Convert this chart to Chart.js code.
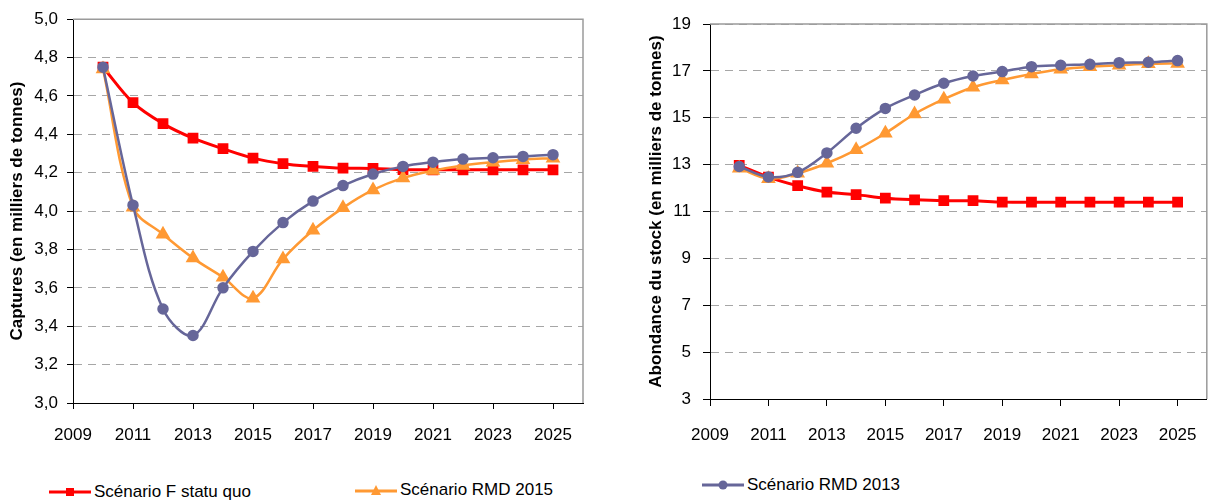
<!DOCTYPE html>
<html>
<head>
<meta charset="utf-8">
<script src="https://cdn.jsdelivr.net/npm/chart.js@4"></script>
<style>
  body { margin: 0; background: #fff; width: 1216px; height: 501px; position: relative; overflow: hidden; }
  canvas { position: absolute; top: 0; }
  #capturesChart { left: 0; }
  #stockChart { left: 600px; }
  .leg { position: absolute; display: flex; align-items: center; font-family: "Liberation Sans", sans-serif; font-size: 17px; color: #000; height: 20px; }
  .leg svg { margin-right: 3px; }
</style>
</head>
<body>
<canvas id="capturesChart" width="600" height="450"></canvas>
<canvas id="stockChart" width="616" height="450"></canvas>

<div class="leg" style="left:49px; top:482px;">
  <svg width="42" height="12"><line x1="0" y1="6" x2="42" y2="6" stroke="#FF0000" stroke-width="3"/><rect x="17" y="2" width="8" height="8" fill="#FF0000"/></svg>
  <span>Scénario F statu quo</span>
</div>
<div class="leg" style="left:355px; top:480px;">
  <svg width="42" height="12"><line x1="0" y1="7" x2="42" y2="7" stroke="#FF9933" stroke-width="3"/><polygon points="21,1 26,11 16,11" fill="#FF9933"/></svg>
  <span>Scénario RMD 2015</span>
</div>
<div class="leg" style="left:702px; top:475px;">
  <svg width="42" height="12"><line x1="0" y1="6" x2="42" y2="6" stroke="#666699" stroke-width="3"/><circle cx="21" cy="6" r="4.5" fill="#666699"/></svg>
  <span>Scénario RMD 2013</span>
</div>

<script>
  const years = [2010, 2011, 2012, 2013, 2014, 2015, 2016, 2017, 2018, 2019, 2020, 2021, 2022, 2023, 2024, 2025];
  const yearTicks = [2009, 2011, 2013, 2015, 2017, 2019, 2021, 2023, 2025];

  // Captures (milliers de tonnes)
  const capturesStatuQuo = [4.75, 4.565, 4.456, 4.38, 4.325, 4.276, 4.247, 4.233, 4.224, 4.222, 4.216, 4.215, 4.215, 4.215, 4.215, 4.215];
  const capturesRmd2015 = [4.74, 4.02, 3.879, 3.755, 3.655, 3.546, 3.75, 3.90, 4.017, 4.11, 4.173, 4.211, 4.238, 4.255, 4.268, 4.276];
  const capturesRmd2013 = [4.75, 4.031, 3.49, 3.352, 3.60, 3.79, 3.94, 4.052, 4.133, 4.193, 4.233, 4.255, 4.271, 4.278, 4.285, 4.294];

  // Abondance du stock (milliers de tonnes)
  const stockStatuQuo = [12.97, 12.47, 12.10, 11.83, 11.72, 11.57, 11.50, 11.46, 11.46, 11.40, 11.40, 11.40, 11.40, 11.40, 11.40, 11.40];
  const stockRmd2015 = [12.85, 12.40, 12.63, 13.06, 13.63, 14.34, 15.16, 15.79, 16.30, 16.61, 16.87, 17.07, 17.18, 17.24, 17.30, 17.32];
  const stockRmd2013 = [12.92, 12.47, 12.67, 13.50, 14.55, 15.40, 15.97, 16.47, 16.78, 16.97, 17.18, 17.24, 17.28, 17.35, 17.37, 17.44];

  Chart.defaults.font.family = "'Liberation Sans', sans-serif";
  Chart.defaults.font.size = 17;
  Chart.defaults.color = "#000";

  const toPoints = (vals) => vals.map((v, i) => ({ x: years[i], y: v }));

  function makeDatasets(statuQuo, rmd2015, rmd2013) {
    return [
      {
        label: "Scénario F statu quo",
        data: toPoints(statuQuo),
        borderColor: "#FF0000",
        backgroundColor: "#FF0000",
        borderWidth: 3,
        pointStyle: "rect",
        pointRadius: 5.5,
        tension: 0.35,
        order: 3
      },
      {
        label: "Scénario RMD 2015",
        data: toPoints(rmd2015),
        borderColor: "#FF9933",
        backgroundColor: "#FF9933",
        borderWidth: 2.5,
        pointStyle: "triangle",
        pointRadius: 6,
        tension: 0.35,
        order: 2
      },
      {
        label: "Scénario RMD 2013",
        data: toPoints(rmd2013),
        borderColor: "#666699",
        backgroundColor: "#666699",
        borderWidth: 2.5,
        pointStyle: "circle",
        pointRadius: 4.5,
        tension: 0.35,
        order: 1
      }
    ];
  }

  // gray frame on top and right of the plot area
  const frame = {
    id: "frame",
    beforeDatasetsDraw(chart) {
      const { ctx, chartArea: a } = chart;
      ctx.save();
      ctx.strokeStyle = "#9a9a9a";
      ctx.lineWidth = 1.5;
      ctx.beginPath();
      ctx.moveTo(a.left, a.top);
      ctx.lineTo(a.right, a.top);
      ctx.lineTo(a.right, a.bottom);
      ctx.stroke();
      ctx.restore();
    }
  };

  function makeOptions(o) {
    return {
      responsive: false,
      animation: false,
      layout: { padding: { top: o.padTop, right: o.padRight, left: 0, bottom: 0 } },
      plugins: { legend: { display: false }, tooltip: { enabled: false } },
      scales: {
        x: {
          type: "linear",
          min: 2009,
          max: 2026,
          afterBuildTicks: (scale) => { scale.ticks = yearTicks.map(v => ({ value: v })); },
          afterFit: (scale) => { scale.height = o.xHeight; },
          ticks: { padding: o.xPad, maxRotation: 0, autoSkip: false, callback: (v) => String(v) },
          grid: { drawOnChartArea: false, tickLength: o.tick, tickColor: "#000" },
          border: { color: "#000", width: 1 }
        },
        y: {
          min: o.yMin,
          max: o.yMax,
          afterFit: (scale) => { scale.width = o.yWidth; },
          ticks: { stepSize: o.yStep, padding: o.yPad, callback: o.yFormat },
          grid: { color: "#a6a6a6", tickLength: o.tick, tickColor: "#000" },
          border: { color: "#000", width: 1, dash: [8, 6] },
          title: {
            display: true,
            text: o.yTitle,
            font: { size: 17, weight: "bold" },
            padding: { top: o.titlePad, bottom: 0 }
          }
        }
      }
    };
  }

  new Chart(document.getElementById("capturesChart").getContext("2d"), {
    type: "line",
    data: { datasets: makeDatasets(capturesStatuQuo, capturesRmd2015, capturesRmd2013) },
    options: makeOptions({
      padTop: 17, padRight: 17, xHeight: 47, yWidth: 73, tick: 6, xPad: 16, yPad: 9,
      yMin: 3, yMax: 5, yStep: 0.2,
      yFormat: (v) => v.toFixed(1).replace(".", ","),
      yTitle: "Captures (en milliers de tonnes)", titlePad: 7
    }),
    plugins: [frame]
  });

  new Chart(document.getElementById("stockChart").getContext("2d"), {
    type: "line",
    data: { datasets: makeDatasets(stockStatuQuo, stockRmd2015, stockRmd2013) },
    options: makeOptions({
      padTop: 24, padRight: 1, xHeight: 51, yWidth: 110, tick: 7, xPad: 19, yPad: 12,
      yMin: 3, yMax: 19, yStep: 2,
      yFormat: (v) => String(v),
      yTitle: "Abondance du stock (en milliers de tonnes)", titlePad: 46
    }),
    plugins: [frame]
  });
</script>
</body>
</html>
